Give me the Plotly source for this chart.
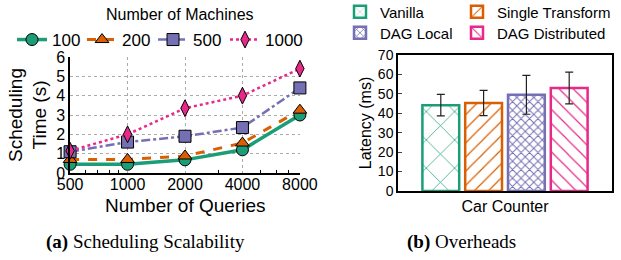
import math
import plotly.graph_objects as go

# ---- data: left (scheduling scalability) ----
queries = [500, 1000, 2000, 4000, 8000]
machines = ["100", "200", "500", "1000"]
sched_100 = [0.45, 0.45, 0.68, 1.2, 3.0]
sched_200 = [0.7, 0.7, 0.88, 1.55, 3.25]
sched_500 = [1.1, 1.6, 1.9, 2.35, 4.4]
sched_1000 = [1.15, 2.0, 3.35, 4.0, 5.4]

# ---- data: right (overheads) ----
bar_category = ["Car Counter"]
bar_names = ["Vanilla", "Single Transform", "DAG Local", "DAG Distributed"]
latency = [44.2, 45.3, 49.5, 53.0]
latency_err = [5.5, 6.5, 10.0, 8.2]

colors = ["#1b9e77", "#d95f02", "#7570b3", "#e7298a"]
SANS = "Liberation Sans, Arial, sans-serif"
SERIF = "Liberation Serif, Times New Roman, serif"
W, H = 621, 260

fig = go.Figure()

# one legend per entry so each can be placed exactly
left_leg_pos = [(12, 40), (82, 40), (153, 40), (225, 40)]
right_leg_pos = [(340, 12), (457, 12), (340, 33), (457, 33)]

legend_layout = {}
series = [sched_100, sched_200, sched_500, sched_1000]
dashes = ["solid", "dash", "dashdot", "dot"]
widths = [3.5, 3, 2.5, 2.5]
symbols = ["circle", "triangle-up", "square", "diamond-tall"]
for i, (name, ys, c, d, w, s) in enumerate(zip(machines, series, colors, dashes, widths, symbols)):
    key = "legend" if i == 0 else f"legend{i+1}"
    fig.add_trace(go.Scatter(
        x=queries, y=ys, name=name, mode="lines+markers",
        line=dict(color=c, dash=d, width=w),
        marker=dict(symbol=s, size=12, color=c, line=dict(color="black", width=1)),
        cliponaxis=False, xaxis="x", yaxis="y", legend=key,
    ))
    px, py = left_leg_pos[i]
    legend_layout[key] = dict(x=px / W, y=1 - py / H, xanchor="left", yanchor="middle",
                              font=dict(size=17), bgcolor="rgba(0,0,0,0)", itemwidth=30)

patterns = ["x", "/", "x", "\\"]
psize = [20, 10, 6, 10]
psol = [0.07, 0.12, 0.3, 0.12]
for i, (name, v, e, c, p, ps, so) in enumerate(zip(bar_names, latency, latency_err, colors,
                                                    patterns, psize, psol)):
    key = f"legend{i+5}"
    fig.add_trace(go.Bar(
        x=bar_category, y=[v], name=name,
        error_y=dict(type="data", array=[e], color="#222", thickness=1.2, width=4),
        marker=dict(color="white", line=dict(color=c, width=2.5),
                    pattern=dict(shape=p, fgcolor=c, bgcolor="white", size=ps,
                                 solidity=so, fgopacity=1)),
        xaxis="x2", yaxis="y2", legend=key,
    ))
    px, py = right_leg_pos[i]
    legend_layout[key] = dict(x=px / W, y=1 - py / H, xanchor="left", yanchor="middle",
                              font=dict(size=15), bgcolor="rgba(0,0,0,0)", itemwidth=30)

xr = [math.log10(queries[0]) - 0.0005, math.log10(queries[-1]) + 0.0005]

fig.update_layout(
    template="none",
    width=W, height=H,
    margin=dict(l=0, r=0, t=0, b=0, autoexpand=False),
    paper_bgcolor="white", plot_bgcolor="white",
    font=dict(family=SANS, color="black"),
    barmode="group", bargap=0.2, bargroupgap=0.14,
    showlegend=True,
    xaxis=dict(
        domain=[70/W, 300/W], anchor="y", type="log", automargin=False,
        range=xr, tickvals=queries, ticktext=[str(q) for q in queries],
        tickfont=dict(size=16), showgrid=True, gridcolor="#aaa", griddash="dot",
        gridwidth=1, showline=True, linecolor="black", linewidth=1.5, ticks="",
        ticklen=0, ticklabelstandoff=-4, zeroline=False,
        minor=dict(ticks="inside", ticklen=3, tickcolor="black",
                   tickvals=[600, 700, 800, 900, 3000, 5000, 6000, 7000], showgrid=False),
    ),
    yaxis=dict(
        domain=[1-173/H, 1-57/H], anchor="x", range=[0, 6], dtick=1, automargin=False,
        tickfont=dict(size=16), showgrid=True, gridcolor="#aaa", griddash="dot",
        gridwidth=1, showline=True, linecolor="black", linewidth=1.5, ticks="",
        ticklen=0, zeroline=False,
        title=dict(text="Scheduling<br>Time (s)", font=dict(size=19), standoff=4),
    ),
    xaxis2=dict(
        domain=[398/W, 612/W], anchor="y2", showline=True, mirror=True,
        automargin=False, linecolor="black", linewidth=1.5, ticks="", ticklen=0,
        tickfont=dict(size=16), showgrid=False,
    ),
    yaxis2=dict(
        domain=[1-191/H, 1-55/H], anchor="x2", range=[0, 70], dtick=10,
        automargin=False, tickfont=dict(size=14), showline=True, mirror=True,
        linecolor="black", linewidth=1.5, ticks="inside", ticklen=4, showgrid=False,
        zeroline=False,
        title=dict(text="Latency (ms)", font=dict(size=16), standoff=2),
    ),
    xaxis3=dict(
        overlaying="x2", anchor="y2", side="top", range=[0, 1], domain=[398/W, 612/W],
        tickvals=[0.1028, 0.3107, 0.5187, 0.7266, 0.9346], showticklabels=False,
        ticks="inside", ticklen=5, mirror="ticks", showline=False, showgrid=False,
        zeroline=False, automargin=False,
    ),
    **legend_layout,
)

fig.add_annotation(text="Number of Queries", xref="paper", yref="paper",
                   x=185/W, y=1-205/H, xanchor="center", yanchor="middle",
                   showarrow=False, font=dict(size=19))
fig.add_annotation(text="Number of Machines", xref="paper", yref="paper",
                   x=180/W, y=1-14/H, xanchor="center", yanchor="middle",
                   showarrow=False, font=dict(size=16))
fig.add_annotation(text="<b>(a)</b> Scheduling Scalability", xref="paper", yref="paper",
                   x=145/W, y=1-242/H, xanchor="center", yanchor="middle",
                   showarrow=False, font=dict(family=SERIF, size=19))
fig.add_annotation(text="<b>(b)</b> Overheads", xref="paper", yref="paper",
                   x=461/W, y=1-242/H, xanchor="center", yanchor="middle",
                   showarrow=False, font=dict(family=SERIF, size=19))

fig.write_html("out.html", config={"displayModeBar": False},
               post_script="document.body.style.margin='0';")
